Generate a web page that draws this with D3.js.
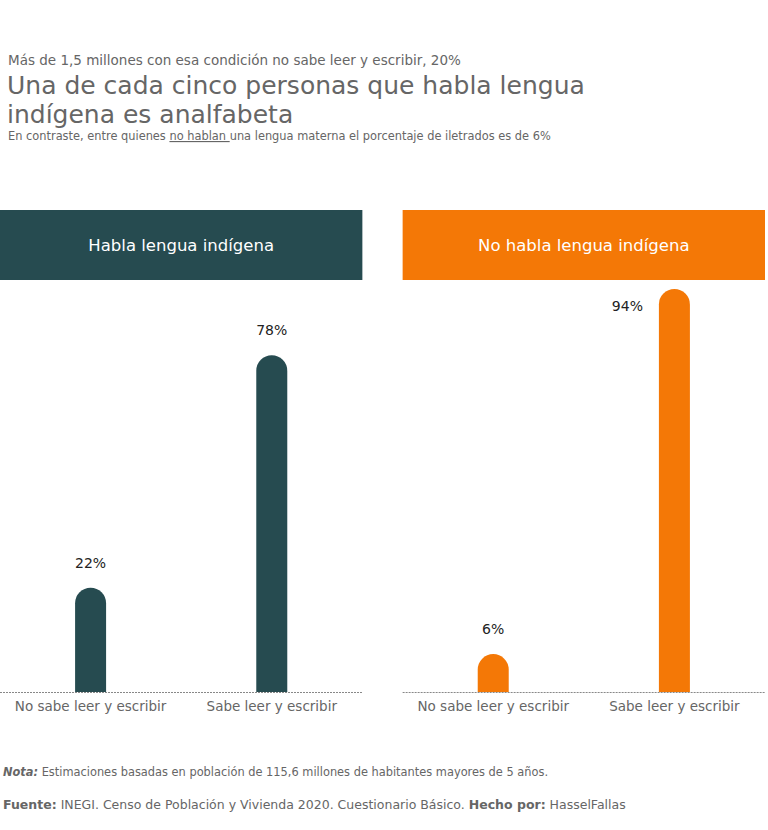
<!DOCTYPE html>
<html>
<head>
<meta charset="utf-8">
<script src="https://cdn.jsdelivr.net/npm/d3@7"></script>
<style>
  body { margin: 0; background: #fff; font-family: "DejaVu Sans", sans-serif; }
  svg text { font-family: "DejaVu Sans", sans-serif; }
</style>
</head>
<body>
<div id="chart"></div>
<script>
// data
const groups = ["Habla lengua indígena", "No habla lengua indígena"];
const groupColors = ["#264b50", "#f47806"];
const categories = ["No sabe leer y escribir", "Sabe leer y escribir"];
const habla = [22, 78];
const noHabla = [6, 94];
const series = [habla, noHabla];

const width = 768;
const height = 830;
const baseline = 692;

const svg = d3.select("#chart")
  .append("svg")
  .attr("width", width)
  .attr("height", height);

// header texts
svg.append("text")
  .attr("x", 8).attr("y", 65)
  .attr("font-size", 13.5)
  .attr("fill", "#666")
  .text("Más de 1,5 millones con esa condición no sabe leer y escribir, 20%");

const title = svg.append("text")
  .attr("font-size", 25)
  .attr("fill", "#666");
title.append("tspan").attr("x", 7).attr("y", 94).text("Una de cada cinco personas que habla lengua");
title.append("tspan").attr("x", 7).attr("y", 123).text("indígena es analfabeta");

const sub = svg.append("text")
  .attr("x", 8).attr("y", 140)
  .attr("font-size", 11.4)
  .attr("fill", "#666");
sub.append("tspan").text("En contraste, entre quienes ");
sub.append("tspan").attr("text-decoration", "underline").text("no hablan ");
sub.append("tspan").text("una lengua materna el porcentaje de iletrados es de 6%");

// panels
const panelX = d3.scaleBand()
  .domain(groups)
  .range([0, 765])
  .paddingInner(0.1);

const y = d3.scaleLinear()
  .domain([0, 100])
  .range([679, 264]);

const headerTop = 210;
const headerBottom = 280;

groups.forEach((g, i) => {
  const p = svg.append("g")
    .attr("transform", `translate(${panelX(g)},0)`);
  const pw = panelX.bandwidth();

  p.append("rect")
    .attr("x", 0).attr("y", headerTop)
    .attr("width", pw).attr("height", headerBottom - headerTop)
    .attr("fill", groupColors[i]);

  p.append("text")
    .attr("x", pw / 2).attr("y", headerTop + 41)
    .attr("text-anchor", "middle")
    .attr("font-size", 16.5)
    .attr("fill", "#fff")
    .text(g);

  const x = d3.scaleBand()
    .domain(categories)
    .range([0, pw]);

  const bw = 31;
  const data = categories.map((c, j) => ({ cat: c, value: series[i][j] }));

  // bars with rounded top
  p.selectAll("path.bar")
    .data(data)
    .enter()
    .append("path")
    .attr("class", "bar")
    .attr("fill", groupColors[i])
    .attr("d", d => {
      const cx = x(d.cat) + x.bandwidth() / 2;
      const x0 = cx - bw / 2, x1 = cx + bw / 2;
      const top = y(d.value);
      const r = bw / 2;
      return `M${x0},${baseline} L${x0},${top + r} A${r},${r} 0 0 1 ${x1},${top + r} L${x1},${baseline} Z`;
    });

  // value labels
  p.selectAll("text.val")
    .data(data)
    .enter()
    .append("text")
    .attr("class", "val")
    .attr("font-size", 14)
    .attr("fill", "#222")
    .attr("text-anchor", "middle")
    .attr("x", d => {
      const cx = x(d.cat) + x.bandwidth() / 2;
      return y(d.value) - 25 < headerBottom + 20 ? cx - 47 : cx;
    })
    .attr("y", d => y(d.value) - 25 < headerBottom + 20 ? y(d.value) + 22 : y(d.value) - 20)
    .text(d => d.value + "%");

  // baseline
  p.append("line")
    .attr("x1", 0).attr("x2", pw)
    .attr("y1", baseline + 0.5).attr("y2", baseline + 0.5)
    .attr("stroke", "#888")
    .attr("stroke-width", 1)
    .attr("stroke-dasharray", "2,1");

  // axis labels
  const axis = p.append("g")
    .attr("transform", `translate(0,${baseline})`)
    .call(d3.axisBottom(x).tickSize(0).tickPadding(9));
  axis.select(".domain").remove();
  axis.selectAll("text")
    .attr("font-size", 13.5)
    .attr("fill", "#666")
    .style("font-family", "DejaVu Sans, sans-serif");
});

// footer
const nota = svg.append("text")
  .attr("x", 3).attr("y", 776)
  .attr("font-size", 11.4)
  .attr("fill", "#666");
nota.append("tspan").attr("font-weight", "bold").attr("font-style", "italic").text("Nota:");
nota.append("tspan").text(" Estimaciones basadas en población de 115,6 millones de habitantes mayores de 5 años.");

const fuente = svg.append("text")
  .attr("x", 3).attr("y", 809)
  .attr("font-size", 12.5)
  .attr("fill", "#666");
fuente.append("tspan").attr("font-weight", "bold").text("Fuente:");
fuente.append("tspan").text(" INEGI. Censo de Población y Vivienda 2020. Cuestionario Básico. ");
fuente.append("tspan").attr("font-weight", "bold").text("Hecho por:");
fuente.append("tspan").text(" HasselFallas");
</script>
</body>
</html>
